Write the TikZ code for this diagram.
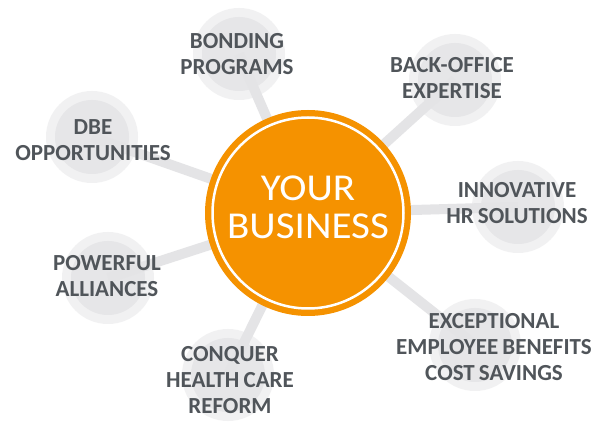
\documentclass[tikz,border=0pt]{standalone}
\usepackage{fontspec}
\setmainfont{Carlito}
\newfontfamily\hubfont{Carlito}[FakeStretch=1.08]
\newfontfamily\lblfont{Carlito}[WordSpace=0.8]
\definecolor{orng}{RGB}{245,146,0}
\definecolor{txtgray}{RGB}{80,85,90}
\definecolor{ringout}{RGB}{241,241,242}
\definecolor{ringin}{RGB}{230,230,232}
\definecolor{linkgray}{RGB}{228,228,230}
\begin{document}
\begin{tikzpicture}[x=1pt,y=-1pt,
  sat/.style={circle,fill=ringout,minimum size=92pt,inner sep=0pt},
  satin/.style={circle,fill=ringin,minimum size=74pt,inner sep=0pt},
  lbl/.style={text=txtgray,font=\lblfont\fontsize{23}{26}\selectfont\bfseries,align=center,inner sep=0pt},
  link/.style={draw=linkgray,line width=10pt}]
\useasboundingbox (0,0) rectangle (600,430);
\fill[white] (0,0) rectangle (600,430);
% hub center
\coordinate (hub) at (308,213);
% satellites
\node[sat] (s1) at (239,54) {};
\node[sat] (s2) at (455,80) {};
\node[sat] (s3) at (518,207) {};
\node[sat] (s4) at (475,345) {};
\node[sat] (s5) at (228,375) {};
\node[sat] (s6) at (108,278) {};
\node[sat] (s7) at (92,137) {};
\foreach \s in {s1,s2,s3,s4,s5,s6,s7}{
  \node[satin] at (\s) {};
  \draw[link] (hub) -- (\s.center);
}
% hub
\node[circle,fill=orng,minimum size=206pt,inner sep=0pt] (hubc) at (hub) {};
\draw[white,line width=2.5pt] (hub) circle (95.5);
\node[text=white,font=\hubfont\fontsize{38}{37}\selectfont,align=center,inner sep=0pt] (ht) at (308,207) {YOUR\\[1pt]BUSINESS};
% labels
\node[lbl] (l1) at (237,54) {BONDING\\PROGRAMS};
\node[lbl] (l2) at (452,78) {BACK-OFFICE\\EXPERTISE};
\node[lbl] (l3) at (517,203) {INNOVATIVE\\HR SOLUTIONS};
\node[lbl] (l4) at (494,347) {EXCEPTIONAL\\EMPLOYEE BENEFITS\\COST SAVINGS};
\node[lbl] (l5) at (230,380) {CONQUER\\HEALTH CARE\\REFORM};
\node[lbl] (l6) at (107,276) {POWERFUL\\ALLIANCES};
\node[lbl] (l7) at (93,140) {DBE\\OPPORTUNITIES};
\end{tikzpicture}
\end{document}
